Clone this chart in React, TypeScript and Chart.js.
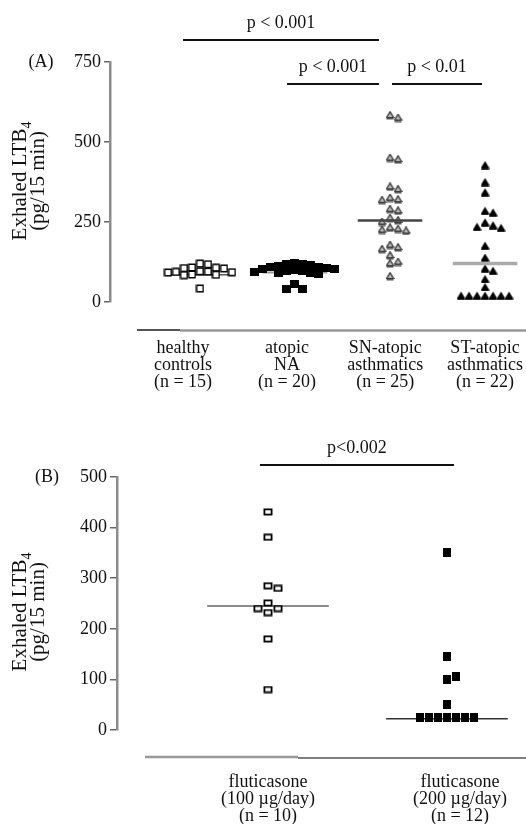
import React, { useEffect, useRef } from "react";
import { Chart, registerables } from "chart.js";
Chart.register(...registerables);

// ---------- Panel A data ----------
const categoriesA = [
  ["healthy", "controls", "(n = 15)"],
  ["atopic", "NA", "(n = 20)"],
  ["SN-atopic", "asthmatics", "(n = 25)"],
  ["ST-atopic", "asthmatics", "(n = 22)"],
];
const healthyControls = [120, 118, 108, 107, 106, 105, 96, 95, 94, 93, 92, 86, 85, 84, 42];
const atopicNA = [122, 120, 118, 115, 112, 110, 108, 106, 104, 102, 100, 98, 96, 94, 92, 90, 88, 55, 42, 42];
const snAtopicAsthmatics = [583, 575, 450, 445, 360, 352, 325, 320, 318, 290, 285, 262, 255, 250, 232, 228, 225, 222, 178, 170, 165, 145, 125, 120, 80];
const stAtopicAsthmatics = [428, 375, 343, 285, 280, 249, 240, 235, 232, 176, 139, 105, 98, 72, 47, 20, 20, 20, 20, 20, 20, 20];
const mediansA = [85, 92, 255, 120];
const yTicksA = [0, 250, 500, 750];

// ---------- Panel B data ----------
const categoriesB = [
  ["fluticasone", "(100 µg/day)", "(n = 10)"],
  ["fluticasone", "(200 µg/day)", "(n = 12)"],
];
const fluticasone100 = [431, 381, 285, 280, 251, 240, 240, 232, 180, 80];
const fluticasone200 = [350, 145, 100, 105, 50, 25, 25, 25, 25, 25, 25, 25];
const mediansB = [245, 22];
const yTicksB = [0, 100, 200, 300, 400, 500];

const FONT = '"Liberation Serif", "Times New Roman", serif';

// layout constants (pixels inside each canvas)
const LA = { w: 526, h: 410, left: 110, right: 520, top: 62, bottom: 302, xMin: -0.947, xMax: 3.368 };
const LB = { w: 526, h: 414, left: 117, right: 520, top: 67, bottom: 320, xMin: -0.8436, xMax: 1.408 };

function swarm(values: number[], ppvY: number, step: number, symH: number): number[] {
  const placed: { x: number; y: number }[] = [];
  return values.map((v) => {
    const y = v * ppvY;
    for (let k = 0; k < 60; k++) {
      const m = Math.ceil(k / 2);
      const off = k === 0 ? 0 : (k % 2 === 1 ? m : -m) * step;
      const hit = placed.some((p) => Math.abs(p.x - off) < step - 0.01 && Math.abs(p.y - y) < symH);
      if (!hit) {
        placed.push({ x: off, y });
        return off;
      }
    }
    return 0;
  });
}

function makeSymbol(kind: string): HTMLCanvasElement {
  const c = document.createElement("canvas");
  const ctx = c.getContext("2d") as CanvasRenderingContext2D;
  if (kind === "openSq") {
    c.width = 9; c.height = 9;
    ctx.fillStyle = "#fff"; ctx.fillRect(1, 1, 7, 7);
    ctx.strokeStyle = "#000"; ctx.lineWidth = 1.5; ctx.strokeRect(1.25, 1.25, 6.5, 6.5);
  } else if (kind === "fillSq") {
    c.width = 9; c.height = 8;
    ctx.fillStyle = "#000"; ctx.fillRect(0, 0, 9, 8);
  } else if (kind === "snTri") {
    c.width = 9; c.height = 9;
    ctx.beginPath(); ctx.moveTo(4.5, 0.8); ctx.lineTo(8, 6.5); ctx.lineTo(1, 6.5); ctx.closePath();
    ctx.fillStyle = "#bbb"; ctx.fill();
    ctx.strokeStyle = "#222"; ctx.lineWidth = 1.2; ctx.stroke();
    ctx.fillStyle = "#555"; ctx.fillRect(1, 6.5, 7, 2);
  } else if (kind === "stTri") {
    c.width = 9; c.height = 9;
    ctx.beginPath(); ctx.moveTo(4.5, 0.5); ctx.lineTo(8.5, 7); ctx.lineTo(0.5, 7); ctx.closePath();
    ctx.fillStyle = "#000"; ctx.fill();
    ctx.fillRect(0.5, 7, 8, 1.8);
  } else if (kind === "openRect") {
    c.width = 10; c.height = 8;
    ctx.fillStyle = "#fff"; ctx.fillRect(1, 1, 8, 6);
    ctx.strokeStyle = "#000"; ctx.lineWidth = 1.8; ctx.strokeRect(1.4, 1.4, 7.2, 5.2);
  } else {
    c.width = 8; c.height = 9;
    ctx.fillStyle = "#000"; ctx.fillRect(0, 0, 8, 9);
  }
  return c;
}

function groupData(values: number[], idx: number, L: any, ymax: number, step: number, symH: number) {
  const ppuX = (L.right - L.left) / (L.xMax - L.xMin);
  const ppvY = (L.bottom - L.top) / ymax;
  const offs = swarm(values, ppvY, step, symH);
  return values.map((v, i) => ({ x: idx + offs[i] / ppuX, y: v }));
}

function medianDs(m: number, idx: number, color: string, width: number, order: number) {
  return {
    type: "line",
    data: [{ x: idx - 0.34, y: m }, { x: idx + 0.34, y: m }],
    borderColor: color,
    borderWidth: width,
    pointRadius: 0,
    showLine: true,
    order,
  };
}

function drawYTitle(ctx: CanvasRenderingContext2D, cx: number, cy: number) {
  ctx.save();
  ctx.translate(cx, cy);
  ctx.rotate(-Math.PI / 2);
  ctx.fillStyle = "#111";
  ctx.textBaseline = "middle";
  ctx.font = `21px ${FONT}`;
  const main = "Exhaled LTB";
  const w1 = ctx.measureText(main).width;
  ctx.font = `14px ${FONT}`;
  const w2 = ctx.measureText("4").width;
  const start = -(w1 + w2) / 2;
  ctx.font = `21px ${FONT}`;
  ctx.textAlign = "left";
  ctx.fillText(main, start, 0);
  ctx.font = `14px ${FONT}`;
  ctx.fillText("4", start + w1, 7);
  ctx.font = `21px ${FONT}`;
  ctx.textAlign = "center";
  ctx.fillText("(pg/15 min)", 0, 18);
  ctx.restore();
}

function drawBracket(chart: any, from: number, to: number, y: number, text: string) {
  const ctx = chart.ctx;
  const xs = chart.scales.x;
  const x1 = xs.getPixelForValue(from);
  const x2 = xs.getPixelForValue(to);
  ctx.save();
  ctx.strokeStyle = "#111";
  ctx.lineWidth = 2;
  ctx.beginPath(); ctx.moveTo(x1, y); ctx.lineTo(x2, y); ctx.stroke();
  ctx.fillStyle = "#111";
  ctx.font = `18px ${FONT}`;
  ctx.textAlign = "center";
  ctx.textBaseline = "middle";
  ctx.fillText(text, (x1 + x2) / 2, y - 17);
  ctx.restore();
}

function hline(ctx: CanvasRenderingContext2D, x1: number, x2: number, y: number, color: string, w: number) {
  ctx.save();
  ctx.strokeStyle = color; ctx.lineWidth = w;
  ctx.beginPath(); ctx.moveTo(x1, y); ctx.lineTo(x2, y); ctx.stroke();
  ctx.restore();
}

const annotA = {
  id: "annotA",
  afterDraw(chart: any) {
    const ctx = chart.ctx;
    drawBracket(chart, -0.179, 1.884, 40, "p < 0.001");
    drawBracket(chart, 0.916, 1.884, 84, "p < 0.001");
    drawBracket(chart, 2.021, 2.968, 84, "p < 0.01");
    ctx.save();
    ctx.fillStyle = "#111"; ctx.font = `18px ${FONT}`; ctx.textAlign = "center"; ctx.textBaseline = "middle";
    ctx.fillText("(A)", 41, 62);
    ctx.restore();
    drawYTitle(ctx, 20, 181);
    hline(ctx, 137, 180, 330, "#555", 2);
    hline(ctx, 180, 526, 330.5, "#999", 2.5);
  },
};

const annotB = {
  id: "annotB",
  afterDraw(chart: any) {
    const ctx = chart.ctx;
    drawBracket(chart, -0.045, 1.039, 55, "p<0.002");
    ctx.save();
    ctx.fillStyle = "#111"; ctx.font = `18px ${FONT}`; ctx.textAlign = "center"; ctx.textBaseline = "middle";
    ctx.fillText("(B)", 47, 67);
    ctx.restore();
    drawYTitle(ctx, 20, 202);
    hline(ctx, 145, 298, 347, "#999", 2.5);
    hline(ctx, 298, 526, 348, "#555", 1.5);
  },
};

function yScale(L: any, max: number, ticks: number[], tickLen: number) {
  return {
    type: "linear",
    min: 0,
    max,
    afterBuildTicks: (s: any) => { s.ticks = ticks.map((v) => ({ value: v })); },
    afterFit: (s: any) => { s.width = L.left; },
    border: { color: "#8c8c8c", width: 2.5 },
    grid: { drawOnChartArea: false, drawTicks: true, tickLength: tickLen, color: "#666", lineWidth: 1.5 },
    ticks: { padding: 3, color: "#111", font: { family: FONT, size: 18 } },
  };
}

function xScale(L: any, labelPos: number[], cats: string[][], pad: number) {
  return {
    type: "linear",
    min: L.xMin,
    max: L.xMax,
    afterBuildTicks: (s: any) => { s.ticks = labelPos.map((v) => ({ value: v })); },
    afterFit: (s: any) => {
      s.height = L.h - L.bottom;
      s.paddingLeft = 0;
      s.paddingRight = 0;
    },
    border: { display: false },
    grid: { display: false, drawTicks: false },
    ticks: {
      autoSkip: false, maxRotation: 0, minRotation: 0, padding: pad, color: "#111",
      font: { family: FONT, size: 18, lineHeight: 0.95 },
      callback: (_v: any, i: number) => cats[i],
    },
  };
}

export default function App() {
  const refA = useRef<HTMLCanvasElement | null>(null);
  const refB = useRef<HTMLCanvasElement | null>(null);

  useEffect(() => {
    const symOpen = makeSymbol("openSq");
    const symFill = makeSymbol("fillSq");
    const symSN = makeSymbol("snTri");
    const symST = makeSymbol("stTri");
    const symOpenRect = makeSymbol("openRect");
    const symFillRect = makeSymbol("fillRect");

    const pts = (data: any[], style: any, order: number) => ({
      type: "scatter",
      data,
      pointStyle: style,
      pointRadius: 4,
      order,
    });

    const chartA = new Chart(refA.current as HTMLCanvasElement, {
      type: "scatter",
      data: {
        datasets: [
          medianDs(mediansA[0], 0, "#555", 1.5, 5),
          medianDs(mediansA[1], 1, "#999", 2, 5),
          pts(groupData(healthyControls, 0, LA, 750, 8, 7), symOpen, 3),
          pts(groupData(atopicNA, 1, LA, 750, 8, 7), symFill, 3),
          pts(groupData(snAtopicAsthmatics, 2, LA, 750, 8, 7), symSN, 3),
          pts(groupData(stAtopicAsthmatics, 3, LA, 750, 8, 7), symST, 3),
          medianDs(mediansA[2], 2, "#444", 2.5, 1),
          medianDs(mediansA[3], 3, "#aaa", 3.5, 1),
        ] as any,
      },
      options: {
        animation: false,
        responsive: false,
        layout: { padding: { left: 0, right: LA.w - LA.right, top: LA.top, bottom: 0 } },
        plugins: { legend: { display: false }, tooltip: { enabled: false } },
        scales: {
          x: xScale(LA, [-0.179, 0.916, 1.95, 3.0], categoriesA, 38),
          y: yScale(LA, 750, yTicksA, 6),
        } as any,
      },
      plugins: [annotA],
    });

    const chartB = new Chart(refB.current as HTMLCanvasElement, {
      type: "scatter",
      data: {
        datasets: [
          medianDs(mediansB[0], 0, "#666", 1.5, 5),
          medianDs(mediansB[1], 1, "#333", 1.5, 5),
          pts(groupData(fluticasone100, 0, LB, 500, 10, 7), symOpenRect, 3),
          pts(groupData(fluticasone200, 1, LB, 500, 9, 8), symFillRect, 3),
        ] as any,
      },
      options: {
        animation: false,
        responsive: false,
        layout: { padding: { left: 0, right: LB.w - LB.right, top: LB.top, bottom: 0 } },
        plugins: { legend: { display: false }, tooltip: { enabled: false } },
        scales: {
          x: xScale(LB, [0, 1.073], categoriesB, 44),
          y: yScale(LB, 500, yTicksB, 7),
        } as any,
      },
      plugins: [annotB],
    });

    return () => {
      chartA.destroy();
      chartB.destroy();
    };
  }, []);

  return (
    <div style={{ position: "absolute", left: 0, top: 0, width: 526, height: 824, background: "#fff", overflow: "hidden" }}>
      <canvas ref={refA} width={LA.w} height={LA.h} style={{ position: "absolute", left: 0, top: 0, width: LA.w, height: LA.h }} />
      <canvas ref={refB} width={LB.w} height={LB.h} style={{ position: "absolute", left: 0, top: 410, width: LB.w, height: LB.h }} />
    </div>
  );
}
